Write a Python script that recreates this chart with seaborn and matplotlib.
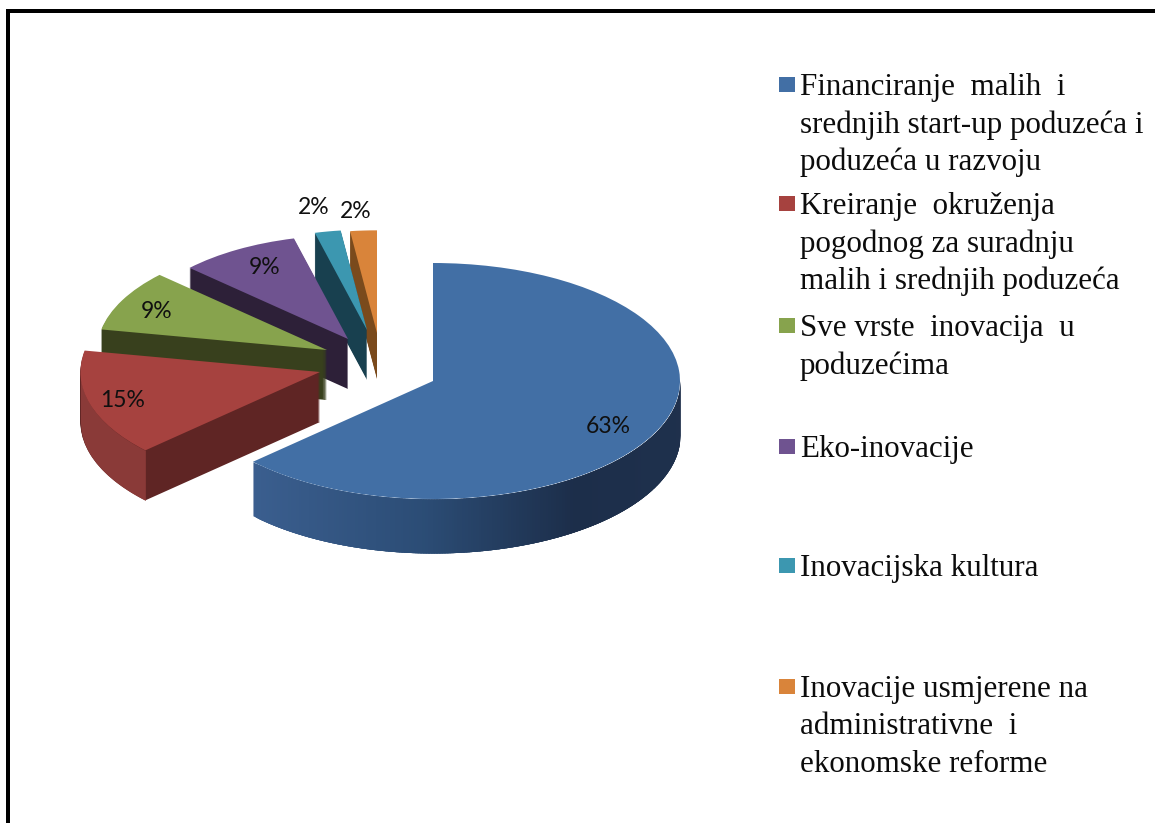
import numpy as np
import matplotlib
matplotlib.use("Agg")
import matplotlib.pyplot as plt
from matplotlib.patches import Rectangle
import seaborn as sns

categories = [
    "Financiranje  malih  i\nsrednjih start-up poduzeća i\npoduzeća u razvoju",
    "Kreiranje  okruženja\npogodnog za suradnju\nmalih i srednjih poduzeća",
    "Sve vrste  inovacija  u\npoduzećima",
    "Eko-inovacije",
    "Inovacijska kultura",
    "Inovacije usmjerene na\nadministrativne  i\nekonomske reforme",
]
shares = [63, 15, 9, 9, 2, 2]
top_colors = ["#426fa5", "#a6423f", "#87a34d", "#6f5390", "#3c97b0", "#d9843a"]
side_colors = ["#2c4c74", "#5f2524", "#38401d", "#2d2038", "#18404f", "#7a4a1c"]

sns.set_theme(style="white")
palette = sns.color_palette(top_colors)

W, H = 1155, 823
CX, CY, RX, RY = 433, 381, 247, 118

fig = plt.figure(figsize=(W / 100, H / 100), dpi=100, facecolor="white")
ax = fig.add_axes([0, 0, 1, 1])


def ux(x):
    return (x - CX) / RX


def uy(y):
    return (CY - y) / RY


tips = [(433, 381), (320, 372), (327, 350), (348, 339), (367, 330), (377, 333)]
radii = [1.0, 0.97, 0.93, 0.88, 0.85, 0.87]
depths = [54, 50, 50, 50, 50, 46]
order = [5, 4, 3, 2, 1, 0]


def layer(colors, dy, idx):
    wedges, _ = ax.pie(shares, startangle=90, counterclock=False, colors=colors,
                       wedgeprops=dict(linewidth=0))
    for i, w in enumerate(wedges):
        if i != idx:
            w.remove()
            continue
        tx, ty = tips[i]
        w.set_center((ux(tx), uy(ty + dy)))
        w.set_radius(radii[i])
        w.set_zorder(10 + order[i] * 10 + (5 if dy == 0 else 0))


# stacked side faces, then the top faces
for idx in range(1, 6):
    for d in np.arange(depths[idx], 0, -1.0):
        layer(side_colors, d, idx)
for idx in range(6):
    layer(palette, 0, idx)

# outer rim of the blue slice, shaded along x
cum = np.cumsum([0] + shares) / 100 * 360
a0 = np.deg2rad(cum[1])
xs = np.linspace(np.sin(a0), 1.0, 160)
dep = depths[0] / RY
stops = np.array([[0.23, 0.37, 0.56], [0.17, 0.30, 0.46], [0.11, 0.18, 0.29], [0.12, 0.19, 0.30]])
pos = [0.0, 0.4, 0.75, 1.0]
for x0, x1 in zip(xs[:-1], xs[1:]):
    t = ((x0 + x1) / 2 - xs[0]) / (xs[-1] - xs[0])
    col = [np.interp(t, pos, stops[:, k]) for k in range(3)]
    seg = np.linspace(x0, min(x1 + 0.03, 1.0), 10)
    low = -np.sqrt(np.clip(1 - seg ** 2, 0, 1))
    ax.fill_between(seg, low, low - dep, color=col, linewidth=0, zorder=62)

# outer rim of the red slice
r = radii[1]
tx, ty = ux(tips[1][0]), uy(tips[1][1])
a1 = np.deg2rad(cum[1])
xr = np.linspace(-r, r * np.sin(a1), 80)
lowr = ty - np.sqrt(np.clip(r ** 2 - xr ** 2, 0, None))
ax.fill_between(xr + tx, lowr, lowr - depths[1] / RY, color="#8a3a38", linewidth=0, zorder=52)

ax.set_aspect("auto")
ax.set_xlim(ux(0), ux(W))
ax.set_ylim(uy(H), uy(0))
ax.axis("off")

# percent labels
label_pos = [(608, 426), (123, 400), (157, 311), (265, 267), (314, 208), (356, 212)]
for v, (x, y) in zip(shares, label_pos):
    ax.text(ux(x), uy(y), f"{v}%", ha="center", va="center", fontsize=16.5,
            family="Lato", color="#101010", zorder=100)

# legend
first_rows = [84, 203, 325, 446, 565, 686]
for name, c, y0 in zip(categories, palette, first_rows):
    ax.add_patch(Rectangle((ux(779), uy(y0 + 8)), 16 / RX, 15 / RY, facecolor=c,
                           edgecolor="none", zorder=100))
    for i, line in enumerate(name.split("\n")):
        ax.text(ux(800), uy(y0 + i * 37.5), line, ha="left", va="center_baseline",
                fontsize=22.3, family="Liberation Serif", color="#0c0c0c", zorder=100)

# frame
ax.add_patch(Rectangle((ux(6), uy(H + 5)), 3.5 / RX, (H + 5 - 9) / RY, facecolor="black",
                       edgecolor="none", zorder=200))
ax.add_patch(Rectangle((ux(6), uy(12.5)), (W + 5 - 6) / RX, 3.5 / RY, facecolor="black",
                       edgecolor="none", zorder=200))

fig.savefig("out.png", dpi=100)
